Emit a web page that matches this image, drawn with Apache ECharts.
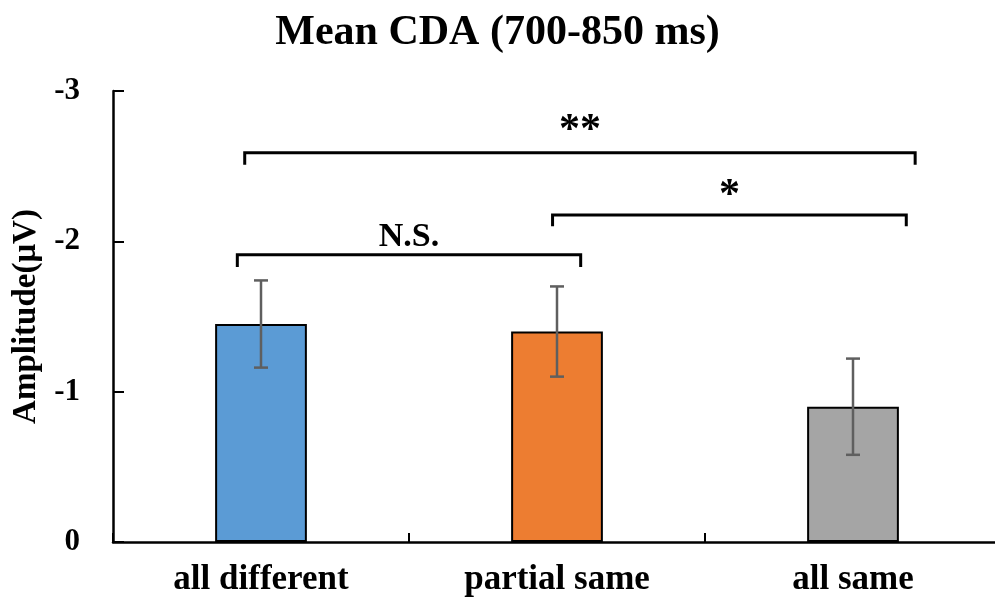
<!DOCTYPE html>
<html>
<head>
<meta charset="utf-8">
<script src="https://cdn.jsdelivr.net/npm/echarts@6/dist/echarts.min.js"></script>
<style>html,body{margin:0;padding:0;background:#fff}#c{width:995px;height:602px}</style>
</head>
<body>
<div id="c"></div>
<script>
var categories = ['all different', 'partial same', 'all same'];
var means = [-1.45, -1.40, -0.90];
var errors = [0.29, 0.30, 0.32];
var colors = ['#5B9BD5', '#ED7D31', '#A5A5A5'];
var yTicks = [-3, -2, -1, 0];
// brackets: from/to category index, offsets in category widths, level (value), drop, label, label level
var brackets = [
  {from: 0, to: 1, fromOff: -0.08, toOff: 0.08, level: -1.91, drop: 0.08, label: 'N.S.', labelLevel: -2.03},
  {from: 1, to: 2, fromOff: -0.015, toOff: 0.18, level: -2.175, drop: 0.075, label: '*', labelLevel: -2.3},
  {from: 0, to: 2, fromOff: -0.055, toOff: 0.21, level: -2.59, drop: 0.08, label: '**', labelLevel: -2.73}
];

var FONT = '"Liberation Serif", "Times New Roman", serif';
var chart = echarts.init(document.getElementById('c'));

var barData = means.map(function (v, i) {
  return {value: v, itemStyle: {color: colors[i]}};
});
var errData = means.map(function (v, i) {
  return [i, v - errors[i], v + errors[i]];
});
var bracketData = brackets.map(function (b, i) { return [i]; });

chart.setOption({
  animation: false,
  title: {
    text: 'Mean CDA (700-850 ms)',
    left: 'center',
    top: 7,
    textStyle: {fontFamily: FONT, fontWeight: 'bold', fontSize: 42, color: '#000'}
  },
  grid: {left: 113, top: 91, width: 888, height: 451, outerBoundsMode: 'none', containLabel: false},
  xAxis: {
    type: 'category',
    data: categories,
    axisLine: {lineStyle: {color: '#000', width: 2.5}},
    axisTick: {show: true, inside: true, length: 9, alignWithLabel: false, lineStyle: {color: '#000', width: 2}},
    axisLabel: {fontFamily: FONT, fontWeight: 'bold', fontSize: 35, color: '#000', margin: 20}
  },
  yAxis: {
    type: 'value',
    inverse: true,
    min: -3,
    max: 0,
    interval: 1,
    name: 'Amplitude(μV)',
    nameLocation: 'middle',
    nameGap: 70,
    nameTextStyle: {fontFamily: FONT, fontWeight: 'bold', fontSize: 33, color: '#000'},
    axisLine: {show: true, lineStyle: {color: '#000', width: 2.5}},
    axisTick: {show: true, inside: true, length: 11, lineStyle: {color: '#000', width: 2}},
    splitLine: {show: false},
    axisLabel: {fontFamily: FONT, fontWeight: 'bold', fontSize: 31, color: '#000', margin: 33,
      formatter: function (v) { return yTicks.indexOf(v) >= 0 ? String(v) : ''; }}
  },
  series: [
    {
      type: 'bar',
      data: barData,
      barWidth: '31%',
      itemStyle: {borderColor: '#000', borderWidth: 2}
    },
    {
      type: 'custom',
      data: errData,
      z: 10,
      renderItem: function (params, api) {
        var x = api.value(0);
        var lo = api.coord([x, api.value(1)]);
        var hi = api.coord([x, api.value(2)]);
        var cap = 7;
        var style = {stroke: '#5f5f5f', lineWidth: 2.5};
        return {
          type: 'group',
          children: [
            {type: 'line', shape: {x1: lo[0], y1: lo[1], x2: hi[0], y2: hi[1]}, style: style},
            {type: 'line', shape: {x1: lo[0] - cap, y1: lo[1], x2: lo[0] + cap, y2: lo[1]}, style: style},
            {type: 'line', shape: {x1: hi[0] - cap, y1: hi[1], x2: hi[0] + cap, y2: hi[1]}, style: style}
          ]
        };
      }
    },
    {
      type: 'custom',
      data: bracketData,
      z: 10,
      renderItem: function (params, api) {
        var b = brackets[api.value(0)];
        var bw = api.size([1, 0])[0];
        var p1 = api.coord([b.from, b.level]);
        var p2 = api.coord([b.to, b.level]);
        var pd = api.coord([b.from, b.level + b.drop]);
        var pl = api.coord([b.from, b.labelLevel]);
        var x1 = p1[0] + b.fromOff * bw;
        var x2 = p2[0] + b.toOff * bw;
        var y = p1[1];
        var yd = pd[1];
        return {
          type: 'group',
          children: [
            {type: 'polyline', shape: {points: [[x1, yd], [x1, y], [x2, y], [x2, yd]]},
              style: {stroke: '#000', lineWidth: 3, fill: null}},
            {type: 'text', x: (x1 + x2) / 2, y: pl[1],
              style: {text: b.label, fontFamily: FONT, fontWeight: 'bold', fontSize: b.label === 'N.S.' ? 34 : 42,
                fill: '#000', align: 'center', verticalAlign: 'middle'}}
          ]
        };
      }
    }
  ]
});
</script>
</body>
</html>
